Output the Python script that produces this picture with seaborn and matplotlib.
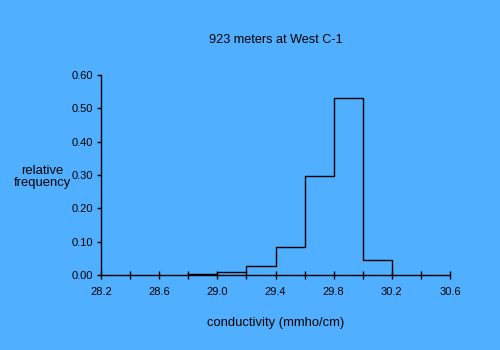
import matplotlib
matplotlib.use("Agg")
import matplotlib.pyplot as plt
import numpy as np
import seaborn as sns

# Bin edges (mmho/cm) and relative frequency per bin
bin_edges = [28.8, 29.0, 29.2, 29.4, 29.6, 29.8, 30.0, 30.2]
rel_freq = [0.003, 0.008, 0.027, 0.083, 0.296, 0.530, 0.044]
x_ticks = [28.2, 28.6, 29.0, 29.4, 29.8, 30.2, 30.6]
y_ticks = [0.0, 0.1, 0.2, 0.3, 0.4, 0.5, 0.6]

bg = "#50B0FF"
sns.set_theme(style="ticks")
plt.rcParams["font.family"] = ["Liberation Sans", "DejaVu Sans"]

fig = plt.figure(figsize=(5, 3.5), dpi=100, facecolor=bg)
ax = fig.add_axes([0.202, 0.2143, 0.698, 0.5714], facecolor=bg)

centers = [(a + b) / 2 for a, b in zip(bin_edges[:-1], bin_edges[1:])]
sns.histplot(x=centers, weights=rel_freq, bins=bin_edges, element="step",
             fill=False, color="black", linewidth=1.0, ax=ax)
# close the outline down to the axis at both outer edges
ax.vlines([bin_edges[0], bin_edges[-1]], 0, [rel_freq[0], rel_freq[-1]],
          color="black", linewidth=1.0)

ax.set_xlim(28.2, 30.6)
ax.set_ylim(0, 0.6)
ax.set_xticks(x_ticks)
ax.set_xticklabels([f"{v:.1f}" for v in x_ticks])
ax.set_xticks(np.arange(28.4, 30.6, 0.4), minor=True)
ax.set_yticks(y_ticks)
ax.set_yticklabels([f"{v:.2f}" for v in y_ticks])

for side in ("top", "right"):
    ax.spines[side].set_visible(False)
for side in ("left", "bottom"):
    ax.spines[side].set_color("black")
    ax.spines[side].set_linewidth(1.0)

ax.tick_params(axis="x", which="both", direction="inout", length=6,
               width=1.0, color="black", labelsize=8, pad=6)
ax.tick_params(axis="y", direction="out", length=3, width=1.0,
               color="black", labelsize=8, pad=3)
for lbl in ax.get_xticklabels() + ax.get_yticklabels():
    lbl.set_color("black")

ax.set_xlabel("conductivity (mmho/cm)", fontsize=9.4, color="black", labelpad=14)
ax.set_ylabel("relative\nfrequency", fontsize=9.4, color="black",
              rotation=0, ha="center", va="center", linespacing=0.95)
ax.yaxis.set_label_coords(-0.168, 0.49)
ax.set_title("923 meters at West C-1", fontsize=9.1, color="black", pad=23)

fig.savefig("out.png", dpi=100, facecolor=bg)
